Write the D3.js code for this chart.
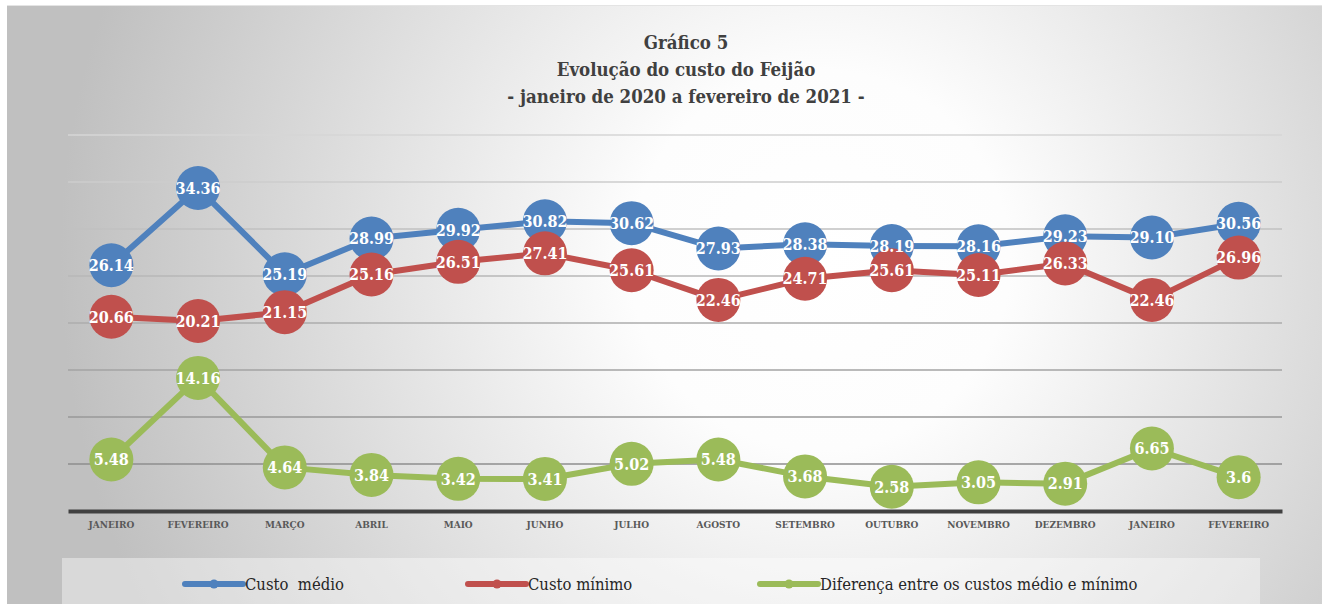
<!DOCTYPE html>
<html>
<head>
<meta charset="utf-8">
<script src="https://cdn.jsdelivr.net/npm/d3@7"></script>
<style>
  html, body { margin: 0; padding: 0; background: #fff; }
  svg { display: block; }
  .cond { font-family: "DejaVu Serif Condensed", "DejaVu Serif", serif; font-stretch: condensed; }
</style>
</head>
<body>
<div id="chart"></div>
<script>
// values
const months = ['JANEIRO', 'FEVEREIRO', 'MARÇO', 'ABRIL', 'MAIO', 'JUNHO', 'JULHO', 'AGOSTO',
  'SETEMBRO', 'OUTUBRO', 'NOVEMBRO', 'DEZEMBRO', 'JANEIRO ', 'FEVEREIRO '];
const custoMedio = [26.14, 34.36, 25.19, 28.99, 29.92, 30.82, 30.62, 27.93, 28.38, 28.19, 28.16, 29.23, 29.10, 30.56];
const custoMinimo = [20.66, 20.21, 21.15, 25.16, 26.51, 27.41, 25.61, 22.46, 24.71, 25.61, 25.11, 26.33, 22.46, 26.96];
const diferenca = [5.48, 14.16, 4.64, 3.84, 3.42, 3.41, 5.02, 5.48, 3.68, 2.58, 3.05, 2.91, 6.65, 3.6];
const yTicks = [0, 5, 10, 15, 20, 25, 30, 35, 40];
const titleLines = ['Gráfico 5', 'Evolução do custo do Feijão', '- janeiro de 2020 a fevereiro de 2021 -'];

const series = [
  { name: 'Custo  médio', values: custoMedio, color: '#4F81BD', fmt: v => v.toFixed(2) },
  { name: 'Custo mínimo', values: custoMinimo, color: '#C0504D', fmt: v => v.toFixed(2) },
  { name: 'Diferença entre os custos médio e mínimo', values: diferenca, color: '#9BBB59', fmt: v => String(v) }
];

const W = 1322, H = 604;

const svg = d3.select('#chart').append('svg')
  .attr('width', W).attr('height', H);

const defs = svg.append('defs');
const bg = defs.append('radialGradient').attr('id', 'bgGrad')
  .attr('gradientUnits', 'userSpaceOnUse')
  .attr('cx', 820).attr('cy', 260).attr('r', 760);
bg.append('stop').attr('offset', '0%').attr('stop-color', '#ffffff');
bg.append('stop').attr('offset', '25%').attr('stop-color', '#fdfdfd');
bg.append('stop').attr('offset', '100%').attr('stop-color', '#c0c0c0');

svg.append('rect').attr('x', 7).attr('y', 5).attr('width', W - 7).attr('height', H - 5)
  .attr('fill', 'url(#bgGrad)');
svg.append('line').attr('x1', 7).attr('x2', W).attr('y1', 5.5).attr('y2', 5.5)
  .attr('stroke', '#e4e4e4');

const x = d3.scaleBand().domain(months).range([68, 1282]);
const y = d3.scaleLinear().domain([0, 40]).range([511, 135]);
const gridColor = d3.scaleLinear().domain([5, 40]).range(['#8e8e8e', '#d6d6d6']);

// gridlines
svg.append('g').selectAll('line')
  .data(yTicks.filter(d => d > 0))
  .join('line')
  .attr('x1', 68).attr('x2', 1282)
  .attr('y1', d => y(d)).attr('y2', d => y(d))
  .attr('stroke', d => gridColor(d)).attr('stroke-width', 1.5);

// baseline + month labels
const xAxis = svg.append('g').attr('transform', `translate(0,${y(0)})`)
  .call(d3.axisBottom(x).tickSize(0).tickPadding(10));
xAxis.select('.domain').attr('stroke', '#404040').attr('stroke-width', 4);
xAxis.selectAll('text')
  .text(d => d.trim())
  .attr('class', 'cond').attr('font-family', null)
  .attr('font-size', 10).attr('font-weight', 'bold')
  .attr('fill', '#595959');

const line = d3.line()
  .x((d, i) => x(months[i]) + x.bandwidth() / 2)
  .y(d => y(d));

series.forEach(s => {
  const g = svg.append('g');
  g.append('path').datum(s.values)
    .attr('d', line)
    .attr('fill', 'none').attr('stroke', s.color).attr('stroke-width', 6)
    .attr('stroke-linejoin', 'round');
  g.selectAll('circle').data(s.values).join('circle')
    .attr('cx', (d, i) => x(months[i]) + x.bandwidth() / 2)
    .attr('cy', d => y(d))
    .attr('r', 22)
    .attr('fill', s.color);
});

// data labels on top of everything
series.forEach(s => {
  svg.append('g').selectAll('text').data(s.values).join('text')
    .attr('class', 'cond')
    .attr('x', (d, i) => x(months[i]) + x.bandwidth() / 2)
    .attr('y', d => y(d))
    .attr('dy', '0.36em')
    .attr('text-anchor', 'middle')
    .attr('font-size', 16).attr('font-weight', 'bold')
    .attr('fill', '#fff')
    .text(s.fmt);
});

// title
svg.append('g').selectAll('text').data(titleLines).join('text')
  .attr('class', 'cond')
  .attr('x', 686).attr('y', (d, i) => 49 + i * 27)
  .attr('text-anchor', 'middle')
  .attr('font-size', 18.5).attr('font-weight', 'bold')
  .attr('fill', '#404040')
  .text(d => d);

// legend
svg.append('rect').attr('x', 62).attr('y', 558).attr('width', 1198).attr('height', 50)
  .attr('fill', '#ffffff').attr('fill-opacity', 0.4);
const legendX = [185, 468, 760];
const leg = svg.append('g').selectAll('g').data(series).join('g')
  .attr('transform', (d, i) => `translate(${legendX[i]},584)`);
leg.append('line').attr('x1', 0).attr('x2', 58)
  .attr('stroke', d => d.color).attr('stroke-width', 6).attr('stroke-linecap', 'round');
leg.append('circle').attr('cx', 29).attr('r', 4.5).attr('fill', d => d.color);
leg.append('text').attr('class', 'cond').attr('x', 60).attr('dy', '0.35em')
  .style('white-space', 'pre')
  .attr('font-size', 16.5)
  .attr('fill', '#262626')
  .text(d => d.name);
</script>
</body>
</html>
